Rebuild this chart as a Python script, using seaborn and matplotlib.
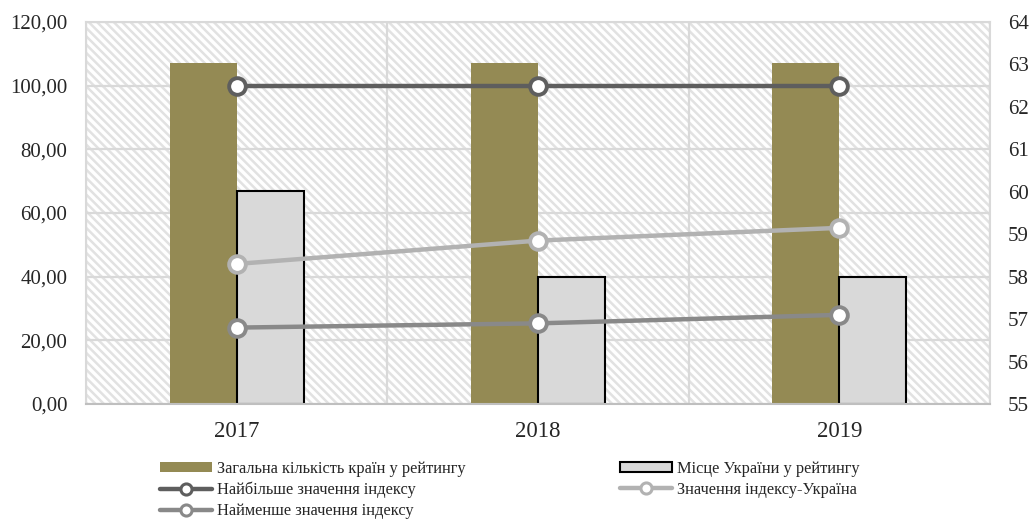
import matplotlib
matplotlib.use("Agg")
import matplotlib.pyplot as plt
import seaborn as sns
import pandas as pd
from matplotlib.patches import Rectangle, Patch
from matplotlib.lines import Line2D
from matplotlib.ticker import FuncFormatter, MultipleLocator

# ---- data ----
years = ["2017", "2018", "2019"]
total_countries = [107, 107, 107]
ukraine_place = [67, 40, 40]
max_index = [62.5, 62.5, 62.5]
ukraine_index = [58.3, 58.85, 59.15]
min_index = [56.8, 56.9, 57.1]

bar_labels = ["Загальна кількість країн у рейтингу", "Місце України у рейтингу"]
line_labels = ["Найбільше значення індексу", "Значення індексу-Україна", "Найменше значення індексу"]

sns.set_style("white")
plt.rcParams["font.family"] = ["Liberation Serif", "DejaVu Serif"]
plt.rcParams["hatch.linewidth"] = 1.8

OLIVE = "#948A54"
LGRAY = "#D9D9D9"
C_MAX = "#5E5E5E"
C_UKR = "#B2B2B2"
C_MIN = "#898989"
GRID = "#D9D9D9"

fig = plt.figure(figsize=(10.31, 5.20), dpi=100)
ax = fig.add_axes([86/1031, 1-404/520, (990-86)/1031, (404-22)/520])

# hatched background
bg = Rectangle((0, 0), 1, 1, transform=ax.transAxes, facecolor="white",
               edgecolor="#E2E2E2", linewidth=0, hatch="\\\\\\\\", zorder=0)
ax.add_patch(bg)
ax.patch.set_alpha(0)

bars_df = pd.DataFrame({
    "year": years * 2,
    "value": total_countries + ukraine_place,
    "series": [bar_labels[0]] * 3 + [bar_labels[1]] * 3,
})
sns.barplot(data=bars_df, x="year", y="value", hue="series", order=years,
            hue_order=bar_labels, palette=[OLIVE, LGRAY], width=0.445, gap=0,
            ax=ax, legend=False, saturation=1, zorder=2)
for cont, ec in zip(ax.containers, ["none", "black"]):
    for bar in cont:
        bar.set_edgecolor(ec)
        bar.set_linewidth(1.5 if ec == "black" else 0)

ax.set_ylim(0, 120)
ax.set_xlim(-0.5, 2.5)
ax.yaxis.set_major_locator(MultipleLocator(20))
ax.yaxis.set_major_formatter(FuncFormatter(lambda v, _: f"{v:.2f}".replace(".", ",")))
ax.set_xticks([-0.5, 0.5, 1.5, 2.5], minor=True)
ax.set_axisbelow(True)
ax.grid(axis="y", which="major", color=GRID, linewidth=1.6, zorder=0.5)
ax.grid(axis="x", which="minor", color=GRID, linewidth=1.6, zorder=0.5)
ax.set_xlabel("")
ax.set_ylabel("")
ax.tick_params(axis="both", which="major", length=0)
ax.tick_params(axis="x", which="minor", length=3.5, width=1.5, color=GRID, direction="out")
ax.tick_params(axis="y", labelsize=15, pad=13.5)
ax.tick_params(axis="x", which="major", labelsize=16.5, pad=12)
for s in ["left", "top", "right"]:
    ax.spines[s].set_color(GRID)
    ax.spines[s].set_linewidth(1.5)
ax.spines["bottom"].set_color("#BFBFBF")
ax.spines["bottom"].set_linewidth(1.5)

# secondary axis with lines
ax2 = ax.twinx()
xpos = list(range(len(years)))
for vals, col in zip([max_index, ukraine_index, min_index], [C_MAX, C_UKR, C_MIN]):
    sns.lineplot(x=xpos, y=vals, ax=ax2, color=col, linewidth=3.2, marker="o",
                 markersize=12, markerfacecolor="white", markeredgecolor=col,
                 markeredgewidth=2.8, zorder=5)
ax2.set_ylim(55, 64)
ax2.yaxis.set_major_locator(MultipleLocator(1))
ax2.tick_params(axis="y", length=0, labelsize=15, pad=13)
ax2.set_ylabel("")
for s in ax2.spines.values():
    s.set_visible(False)
ax2.set_xlim(-0.5, 2.5)

# legends
def line_handle(c):
    return Line2D([0], [0], color=c, linewidth=3.2, marker="o", markersize=8,
                  markerfacecolor="white", markeredgecolor=c, markeredgewidth=2.2)

h1 = [Patch(facecolor=OLIVE, edgecolor="none"), line_handle(C_MAX), line_handle(C_MIN)]
l1 = [bar_labels[0], line_labels[0], line_labels[2]]
h2 = [Patch(facecolor=LGRAY, edgecolor="black", linewidth=1.5), line_handle(C_UKR)]
l2 = [bar_labels[1], line_labels[1]]

common = dict(loc="upper left", frameon=False, fontsize=11.8, borderpad=0,
              handlelength=3.2, handleheight=0.6, handletextpad=0.3,
              labelspacing=0.3, borderaxespad=0)
fig.legend(h1, l1, bbox_to_anchor=(160/1031, 1-461/520), **common)
fig.legend(h2, l2, bbox_to_anchor=(620/1031, 1-461/520), **common)

fig.savefig("out.png", dpi=100)
